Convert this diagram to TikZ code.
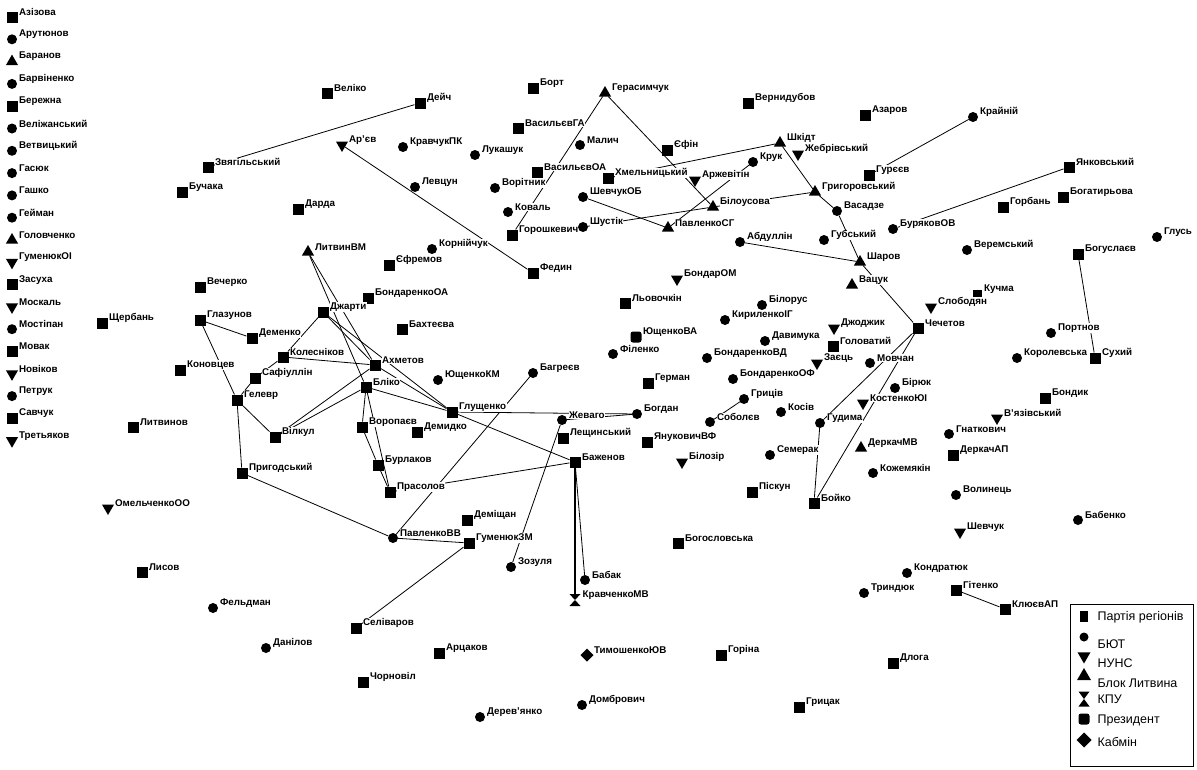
\documentclass[tikz,border=0pt]{standalone}
\usepackage{fontspec}
\setmainfont{Liberation Sans}
\usetikzlibrary{shapes.geometric}
\pgfdeclarelayer{edges}
\pgfsetlayers{edges,main}
\tikzset{
 mk/.style={inner sep=0pt, outer sep=0pt, fill=black, draw=none},
 pSq/.style={mk, rectangle, minimum size=11pt},
 pCi/.style={mk, circle, minimum size=10pt},
 pTri/.style={mk, regular polygon, regular polygon sides=3, minimum size=14pt},
 pInv/.style={mk, regular polygon, regular polygon sides=3, shape border rotate=180, minimum size=14pt},
 pDia/.style={mk, diamond, minimum size=13pt},
 pHg/.style={rectangle, inner sep=0pt, outer sep=0pt, minimum width=11pt, minimum height=12pt},
 pPr/.style={mk, rectangle, rounded corners=2.5pt, minimum size=11pt},
 lbl/.style={font=\fontsize{9.8}{11}\selectfont\bfseries, fill=white, inner sep=0.4pt, anchor=west},
 lgd/.style={font=\fontsize{12.5}{13}\selectfont, inner sep=0.4pt, anchor=west},
 edge/.style={line width=0.8pt, black},
}
\newcommand\pn[5]{\node[#4] (#1) at (#2,#3) {}; \node[lbl] (#1-l) at (#2+6.5,#3-5) {#5};}
\newcommand\hgfill[1]{\fill (#1.north west) -- (#1.north east) -- (#1.south west) -- (#1.south east) -- cycle;}
\begin{document}
\begin{tikzpicture}[x=1pt,y=-1pt]
\useasboundingbox (0,0) rectangle (1197,769);
% left column
\pn{az}{12}{17}{pSq}{Азізова}
\pn{ar}{12}{39.3}{pCi}{Арутюнов}
\pn{bar}{12}{61.6}{pTri}{Баранов}
\pn{barv}{12}{83.9}{pCi}{Барвіненко}
\pn{berezh}{12}{106.2}{pSq}{Бережна}
\pn{velizh}{12}{128.5}{pCi}{Веліжанський}
\pn{vetv}{12}{150.8}{pCi}{Ветвицький}
\pn{gasyuk}{12}{173.1}{pCi}{Гасюк}
\pn{gashko}{12}{195.4}{pCi}{Гашко}
\pn{geim}{12}{217.7}{pCi}{Гейман}
\pn{golovch}{12}{240}{pTri}{Головченко}
\pn{gumoi}{12}{262.3}{pInv}{ГуменюкОІ}
\pn{zasukha}{12}{284.6}{pSq}{Засуха}
\pn{moskal}{12}{306.9}{pInv}{Москаль}
\pn{mostip}{12}{329.2}{pCi}{Мостіпан}
\pn{movak}{12}{351.5}{pSq}{Мовак}
\pn{novik}{12}{373.8}{pInv}{Новіков}
\pn{petruk}{12}{396.1}{pCi}{Петрук}
\pn{savch}{12}{418.4}{pSq}{Савчук}
\pn{tret}{12}{440.7}{pInv}{Третьяков}
% top area
\pn{zvyag}{208}{167}{pSq}{Звягільський}
\pn{buch}{182}{192}{pSq}{Бучака}
\pn{dard}{298}{209}{pSq}{Дарда}
\pn{vel}{327}{93}{pSq}{Веліко}
\pn{deich}{420}{103}{pSq}{Дейч}
\pn{bort}{533}{88}{pSq}{Борт}
\pn{vasga}{518}{128}{pSq}{ВасильєвГА}
\pn{arjev}{342}{145}{pInv}{Ар'єв}
\pn{kravpk}{403}{147}{pCi}{КравчукПК}
\pn{lukash}{475}{155}{pCi}{Лукашук}
\pn{malych}{580}{145}{pCi}{Малич}
\pn{vasoa}{537}{172}{pSq}{ВасильєвОА}
\pn{levts}{415}{187}{pCi}{Левцун}
\pn{vorit}{495}{188}{pCi}{Ворітник}
\pn{shevob}{583}{197}{pCi}{ШевчукОБ}
\pn{koval}{508}{212}{pCi}{Коваль}
\pn{gorosh}{512}{235}{pSq}{Горошкевич}
\pn{shust}{583}{227}{pCi}{Шустік}
\pn{lytvm}{308}{252}{pTri}{ЛитвинВМ}
\pn{korn}{432}{249}{pCi}{Корнійчук}
\pn{ger}{605}{93}{pTri}{Герасимчук}
\pn{vern}{748}{103}{pSq}{Вернидубов}
\pn{azar}{865}{115}{pSq}{Азаров}
\pn{efin}{667}{150}{pSq}{Єфін}
\pn{shmidt}{780}{143}{pTri}{Шкідт}
\pn{zhebr}{798}{154}{pInv}{Жебрівський}
\pn{kruk}{753}{162}{pCi}{Крук}
\pn{khmel}{608}{178}{pSq}{Хмельницький}
\pn{arzh}{695}{180}{pInv}{Аржевітін}
\pn{gur}{869}{175}{pSq}{Гурєєв}
\pn{grigor}{815}{192}{pTri}{Григоровський}
\pn{bil}{713}{207}{pTri}{Білоусова}
\pn{vasadze}{837}{211}{pCi}{Васадзе}
\pn{pavsg}{668}{228}{pTri}{ПавленкоСГ}
\pn{abdul}{740}{242}{pCi}{Абдуллін}
\pn{gub}{824}{240}{pCi}{Губський}
\pn{burob}{893}{229}{pCi}{БуряковОВ}
\pn{sharov}{860}{262}{pTri}{Шаров}
\pn{vatsuk}{852}{285}{pTri}{Вацук}
\pn{krain}{973}{117}{pCi}{Крайній}
\pn{yank}{1069}{167}{pSq}{Янковський}
\pn{bogat}{1063}{197}{pSq}{Богатирьова}
\pn{gorban}{1003}{207}{pSq}{Горбань}
\pn{glus}{1157}{237}{pCi}{Глусь}
\pn{verem}{967}{250}{pCi}{Веремський}
\pn{bogusl}{1078}{254}{pSq}{Богуслаєв}
% middle right
\pn{kuchma}{977}{294}{pSq, minimum size=9pt}{Кучма}
\pn{slob}{931}{307}{pInv}{Слободян}
\pn{chech}{918}{328}{pSq}{Чечетов}
\pn{portn}{1051}{333}{pCi}{Портнов}
\pn{sukh}{1095}{358}{pSq}{Сухий}
\pn{korol}{1017}{358}{pCi}{Королевська}
\pn{bondyk}{1045}{398}{pSq}{Бондик}
\pn{vyaz}{997}{418}{pInv}{В'язівський}
\pn{gnat}{949}{434}{pCi}{Гнаткович}
\pn{derkap}{953}{455}{pSq}{ДеркачАП}
\pn{volyn}{956}{495}{pCi}{Волинець}
% middle
\pn{bondom}{677}{279}{pInv}{БондарОМ}
\pn{lyov}{625}{303}{pSq}{Льовочкін}
\pn{bilor}{762}{305}{pCi}{Білорус}
\pn{kyril}{725}{320}{pCi}{КириленкоІГ}
\pn{yushva}{636}{337}{pPr}{ЮщенкоВА}
\pn{davym}{765}{341}{pCi}{Давимука}
\pn{dzhodzh}{834}{328}{pInv}{Джоджик}
\pn{golov}{833}{346}{pSq}{Головатий}
\pn{filen}{613}{354}{pCi}{Філенко}
\pn{bondvd}{707}{358}{pCi}{БондаренкоВД}
\pn{zayets}{817}{363}{pInv}{Заєць}
\pn{movch}{870}{363}{pCi}{Мовчан}
\pn{german}{648}{383}{pSq}{Герман}
\pn{bondof}{733}{379}{pCi}{БондаренкоОФ}
\pn{hryts}{744}{399}{pCi}{Гриців}
\pn{kosiv}{781}{412}{pCi}{Косів}
\pn{bogdan}{637}{414}{pCi}{Богдан}
\pn{sobol}{710}{422}{pCi}{Соболєв}
\pn{gudym}{820}{423}{pCi}{Гудима}
\pn{kost}{863}{403}{pInv}{КостенкоЮІ}
\pn{biryuk}{895}{388}{pCi}{Бірюк}
\pn{yanuk}{647}{442}{pSq}{ЯнуковичВФ}
\pn{semer}{770}{455}{pCi}{Семерак}
\pn{derkmv}{861}{448}{pTri}{ДеркачМВ}
\pn{biloz}{682}{462}{pInv}{Білозір}
\pn{kozhem}{873}{473}{pCi}{Кожемякін}
\pn{piskun}{752}{492}{pSq}{Піскун}
\pn{boyko}{814}{503}{pSq}{Бойко}
% Akhmetov cluster
\pn{yefr}{389}{265}{pSq}{Єфремов}
\pn{fedyn}{533}{273}{pSq}{Федин}
\pn{bondoa}{368}{298}{pSq}{БондаренкоОА}
\pn{dzharty}{323}{312}{pSq}{Джарти}
\pn{bakht}{402}{329}{pSq}{Бахтеєва}
\pn{kolesn}{283}{357}{pSq}{Колесніков}
\pn{akhm}{375}{365}{pSq}{Ахметов}
\pn{bagr}{533}{373}{pCi}{Багреєв}
\pn{yushkm}{438}{380}{pCi}{ЮщенкоКМ}
\pn{bliko}{366}{387}{pSq}{Бліко}
\pn{glush}{452}{412}{pSq}{Глущенко}
\pn{vorop}{362}{427}{pSq}{Воропаєв}
\pn{demyd}{417}{432}{pSq}{Демидко}
\pn{zhev}{562}{420}{pCi}{Жеваго}
\pn{leshch}{563}{438}{pSq}{Лещинський}
\pn{bazhen}{575}{462}{pSq}{Баженов}
\pn{burl}{378}{465}{pSq}{Бурлаков}
\pn{prasol}{390}{492}{pSq}{Прасолов}
% left cluster
\pn{vecher}{200}{287}{pSq}{Вечерко}
\pn{shcherb}{102}{323}{pSq}{Щербань}
\pn{glaz}{200}{320}{pSq}{Глазунов}
\pn{demenko}{252}{338}{pSq}{Деменко}
\pn{konov}{180}{370}{pSq}{Коновцев}
\pn{safi}{255}{378}{pSq}{Сафіуллін}
\pn{gelevr}{237}{400}{pSq}{Гелевр}
\pn{lytvynov}{133}{427}{pSq}{Литвинов}
\pn{vilkul}{275}{437}{pSq}{Вілкул}
\pn{prygod}{242}{473}{pSq}{Пригодський}
\pn{omel}{108}{508}{pInv}{ОмельченкоОО}
% bottom
\pn{lysov}{142}{572}{pSq}{Лисов}
\pn{feld}{213}{608}{pCi}{Фельдман}
\pn{danil}{266}{648}{pCi}{Данілов}
\pn{pavvv}{393}{538}{pCi}{ПавленкоВВ}
\pn{demish}{467}{520}{pSq}{Деміщан}
\pn{gumzm}{469}{543}{pSq}{ГуменюкЗМ}
\pn{zozul}{511}{567}{pCi}{Зозуля}
\pn{seliv}{356}{628}{pSq}{Селіваров}
\pn{arts}{439}{653}{pSq}{Арцаков}
\pn{chorn}{363}{682}{pSq}{Чорновіл}
\pn{derev}{480}{717}{pCi}{Дерев'янко}
\pn{tymosh}{587}{655}{pDia}{ТимошенкоЮВ}
\pn{domb}{582}{705}{pCi}{Домбрович}
\node[pHg] (kravmv) at (575,600) {};
\hgfill{kravmv}
\node[lbl] (kravmv-l) at (582,595) {КравченкоМВ};
\pn{babak}{585}{580}{pCi}{Бабак}
\pn{bogosl}{678}{543}{pSq}{Богословська}
\pn{gorina}{721}{655}{pSq}{Горіна}
\pn{hrytsak}{799}{707}{pSq}{Грицак}
\pn{tryn}{864}{593}{pCi}{Триндюк}
\pn{dloga}{893}{663}{pSq}{Длога}
\pn{babenko}{1078}{520}{pCi}{Бабенко}
\pn{shevch}{960}{532}{pInv}{Шевчук}
\pn{kondr}{907}{573}{pCi}{Кондратюк}
\pn{hitenko}{956}{590}{pSq}{Гітенко}
\pn{klyuev}{1005}{609}{pSq}{КлюєвАП}
% legend
\draw[line width=0.7pt] (1070,604) rectangle (1193,766);
\node[mk, rectangle, minimum width=8pt, minimum height=11pt] (lg1) at (1084,616) {};
\node[lgd] at (1097,617) {Партія регіонів};
\node[pCi, minimum size=9pt] (lg2) at (1084,637) {};
\node[lgd] at (1097,644) {БЮТ};
\node[pInv, minimum size=15pt] (lg3) at (1084,656) {};
\node[lgd] at (1097,663) {НУНС};
\node[pTri, minimum size=16pt] (lg4) at (1084,676) {};
\node[lgd] at (1097,683) {Блок Литвина};
\node[pHg, minimum width=11pt, minimum height=15pt] (lg5) at (1084,699) {};
\hgfill{lg5}
\node[lgd] at (1097,699) {КПУ};
\node[pPr] (lg6) at (1084,719) {};
\node[lgd] at (1097,720) {Президент};
\node[pDia, minimum size=15pt] (lg7) at (1084,740) {};
\node[lgd] at (1097,742) {Кабмін};
% edges
\begin{pgfonlayer}{edges}
\draw[edge] (zvyag) -- (deich);
\draw[edge] (arjev) -- (fedyn);
\draw[edge] (gorosh) -- (ger);
\draw[edge] (ger) -- (bil);
\draw[edge] (shmidt) -- (khmel);
\draw[edge] (shmidt) -- (grigor);
\draw[edge] (grigor) -- (vasadze);
\draw[edge] (vasadze) -- (sharov);
\draw[edge] (sharov) -- (chech);
\draw[edge] (abdul) -- (sharov);
\draw[edge] (bil) -- (grigor);
\draw[edge] (shust) -- (bil);
\draw[edge] (kruk) -- (pavsg);
\draw[edge] (shevob) -- (pavsg);
\draw[edge] (gur) -- (krain);
\draw[edge] (burob) -- (yank);
\draw[edge] (bogusl) -- (sukh);
\draw[edge] (chech) -- (gudym);
\draw[edge] (chech) -- (boyko);
\draw[edge] (gudym) -- (boyko);
\draw[edge] (glush) -- (bogdan);
\draw[edge] (zhev) -- (bogdan);
\draw[edge] (hryts) -- (sobol);
\draw[edge] (glaz) -- (demenko);
\draw[edge] (glaz) -- (gelevr);
\draw[edge] (dzharty) -- (kolesn);
\draw[edge] (safi) -- (kolesn);
\draw[edge] (gelevr) -- (safi);
\draw[edge] (gelevr) -- (vilkul);
\draw[edge] (gelevr) -- (prygod);
\draw[edge] (prygod) -- (pavvv);
\draw[edge] (bagr) -- (pavvv);
\draw[edge] (prasol) -- (bazhen);
\draw[edge] (gumzm) -- (seliv);
\draw[edge] (gumzm) -- (pavvv);
\draw[edge] (zozul) -- (zhev);
\draw[edge, line width=1.6pt] (bazhen) -- (kravmv);
\draw[edge] (bazhen) -- (babak);
\draw[edge] (hitenko) -- (klyuev);
\draw[edge] (lytvm) -- (akhm);
\draw[edge] (lytvm) -- (bliko);
\draw[edge] (dzharty) -- (akhm);
\draw[edge] (dzharty) -- (glush);
\draw[edge] (kolesn) -- (akhm);
\draw[edge] (akhm) -- (glush);
\draw[edge] (bliko) -- (glush);
\draw[edge] (vilkul) -- (akhm);
\draw[edge] (vilkul) -- (bliko);
\draw[edge] (bliko) -- (vorop);
\draw[edge] (vorop) -- (burl);
\draw[edge] (burl) -- (prasol);
\draw[edge] (bliko) -- (prasol);
\draw[edge] (glush) -- (bazhen);
\end{pgfonlayer}
\end{tikzpicture}
\end{document}
